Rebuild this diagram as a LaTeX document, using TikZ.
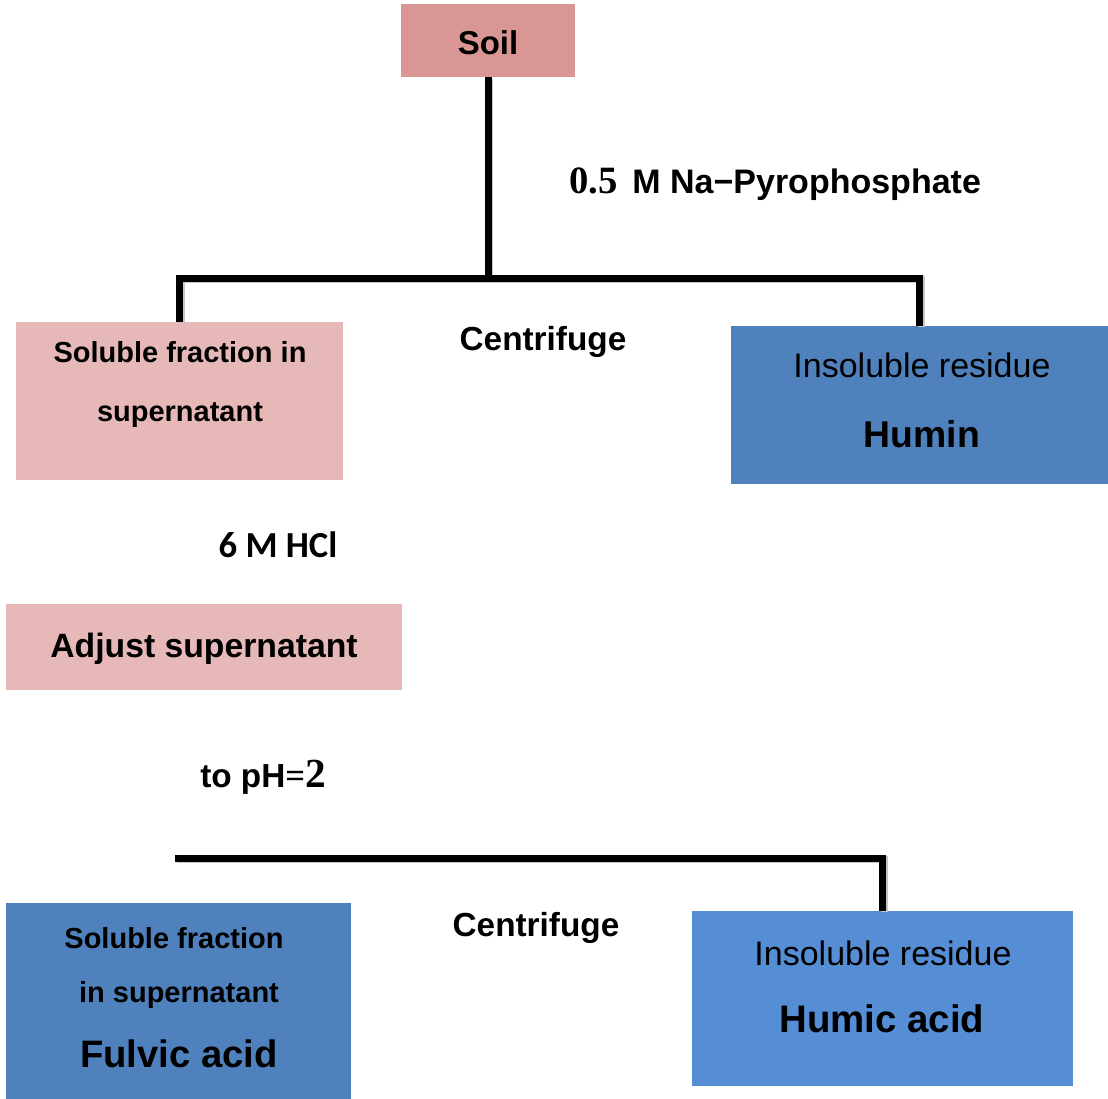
\documentclass[tikz,border=0pt]{standalone}
\usepackage{fontspec}
\setmainfont{Liberation Sans}
\newfontfamily\numfont{Liberation Serif}
\newfontfamily\calfont{Carlito}
\usepackage{tikz}
\definecolor{soilrose}{HTML}{DA9694}
\definecolor{palerose}{HTML}{E6B8B7}
\definecolor{steelblue}{HTML}{4F81BD}
\definecolor{skyblue}{HTML}{558ED5}
\newcommand{\px}{0.75pt}
\newcommand{\fs}[1]{\fontsize{#1}{1.2\dimexpr#1\relax}\selectfont}

\begin{document}
\begin{tikzpicture}[x=0.75pt, y=-0.75pt,
  fracbox/.style={rectangle, inner sep=0pt, draw=none},
  boxtext/.style={anchor=base, inner sep=0pt},
  splitline/.style={line width=5.25pt, line join=miter,
    preaction={draw=black!22, line width=5.25pt,
      transform canvas={xshift=1.3pt, yshift=-1.3pt}}}]

  \useasboundingbox (0,0) rectangle (1108,1099);

  % -- boxes ----------------------------------------------------------------
  \node[fracbox, fill=soilrose, minimum width=174*\px, minimum height=73*\px] (soil) at (488,40.5) {};
  \node[fracbox, fill=palerose, minimum width=327*\px, minimum height=158*\px] (soluble) at (179.5,401) {};
  \node[fracbox, fill=steelblue, minimum width=377*\px, minimum height=158*\px] (humin) at (919.5,405) {};
  \node[fracbox, fill=palerose, minimum width=396*\px, minimum height=86*\px] (adjust) at (204,647) {};
  \node[fracbox, fill=steelblue, minimum width=345*\px, minimum height=196*\px] (fulvic) at (178.5,1001) {};
  \node[fracbox, fill=skyblue, minimum width=381*\px, minimum height=175*\px] (humic) at (882.5,998.5) {};

  % -- texts in the boxes ---------------------------------------------------
  \node[boxtext, font=\fs{24.75pt}\bfseries] (soiltxt) at (488,55) {Soil};
  \node[boxtext, font=\fs{21.75pt}\bfseries] (soltxta) at (180,362) {Soluble fraction in};
  \node[boxtext, font=\fs{21.75pt}\bfseries] (soltxtb) at (180,421) {supernatant};
  \node[boxtext, font=\fs{25.5pt}] (humtxta) at (922,377) {Insoluble residue};
  \node[boxtext, font=\fs{28pt}\bfseries] (humtxtb) at (922,447) {Humin};
  \node[boxtext, font=\fs{25.3pt}\bfseries] (adjtxt) at (204,657) {Adjust supernatant};
  \node[boxtext, font=\fs{21.75pt}\bfseries] (fultxta) at (174,948) {Soluble fraction};
  \node[boxtext, font=\fs{21.75pt}\bfseries] (fultxtb) at (179,1002) {in supernatant};
  \node[boxtext, font=\fs{28.7pt}\bfseries] (fultxtc) at (179,1067) {Fulvic acid};
  \node[boxtext, font=\fs{25.5pt}] (hactxta) at (883,965) {Insoluble residue};
  \node[boxtext, font=\fs{28.8pt}\bfseries] (hactxtb) at (882,1032) {Humic acid};

  % -- reagents and steps ---------------------------------------------------
  \node[boxtext, anchor=base west, font=\fs{25.5pt}\bfseries] (pyro) at (569,194)
    {{\numfont\fs{29pt}\bfseries 0.5}\hspace{4pt} M Na−Pyrophosphate};
  \node[boxtext, font=\fs{25pt}\bfseries] (spin1) at (543,350) {Centrifuge};
  \node[boxtext, font=\fs{27.5pt}\calfont\bfseries] (acid) at (278,557) {6 M HCl};
  \node[boxtext, anchor=base west, font=\fs{25pt}\bfseries] (ph) at (200,787)
    {to pH{\numfont\fs{26pt}=}{\numfont\fs{31pt}\bfseries 2}};
  \node[boxtext, font=\fs{25pt}\bfseries] (spin2) at (536,936) {Centrifuge};

  % -- split lines ------------------------------------------------------------
  \coordinate (split1) at (488,278);
  \coordinate (split2) at (175,858);
  \draw[splitline] (soil.south) -- (split1);
  \draw[splitline] (soluble.north) |- (split1) -| (humin.north);
  \draw[splitline] (split2) -| (humic.north);

\end{tikzpicture}
\end{document}
